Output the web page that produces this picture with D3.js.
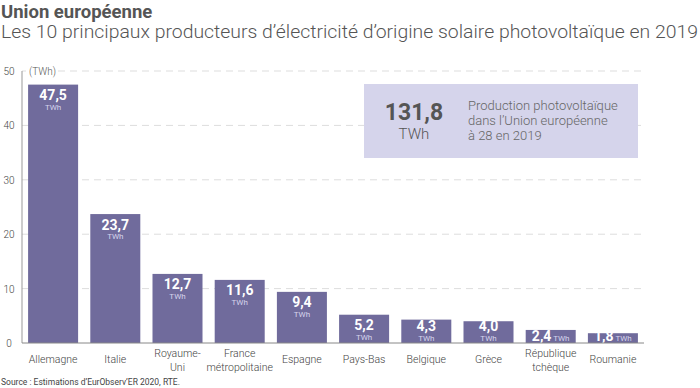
<!DOCTYPE html>
<html>
<head>
<meta charset="utf-8">
<script src="https://cdn.jsdelivr.net/npm/d3@7"></script>
<style>
  body { margin: 0; background: #fff; }
  svg { display: block; font-family: Roboto, "Noto Sans", sans-serif; }
</style>
</head>
<body>
<svg width="700" height="388"></svg>
<script>
var countries = ["Allemagne", "Italie", "Royaume-|Uni", "France|métropolitaine", "Espagne",
	"Pays-Bas", "Belgique", "Grèce", "République|tchèque", "Roumanie"];
var production = [47.5, 23.7, 12.7, 11.6, 9.4, 5.2, 4.3, 4.0, 2.4, 1.8];
var yTicks = [0, 10, 20, 30, 40, 50];
var totalEU = 131.8;

var svg = d3.select("svg");
var barColor = "#706b9c";
var fmt = function(v) { return d3.format(".1f")(v).replace(".", ","); };

var x = d3.scaleBand()
	.domain(countries)
	.range([22, 644])
	.paddingInner(0.196)
	.paddingOuter(0.098);

var y = d3.scaleLinear()
	.domain([0, 50])
	.range([343, 71]);

//titles
svg.append("text")
	.attr("x", 1).attr("y", 17.5)
	.style("font-size", "18.5px").style("font-weight", 700).style("fill", "#555")
	.text("Union européenne");
svg.append("text")
	.attr("x", 1).attr("y", 38)
	.attr("textLength", 697).attr("lengthAdjust", "spacingAndGlyphs")
	.style("font-size", "17.5px").style("font-weight", 300).style("fill", "#555")
	.text("Les 10 principaux producteurs d’électricité d’origine solaire photovoltaïque en 2019");

//grid
svg.append("g").selectAll("line")
	.data(yTicks.filter(function(d) { return d > 0; }))
	.enter().append("line")
		.attr("x1", 22).attr("x2", 645)
		.attr("y1", function(d) { return y(d); })
		.attr("y2", function(d) { return y(d); })
		.style("stroke", "#ddd").style("stroke-dasharray", "7,5");

svg.append("g").selectAll("text")
	.data(yTicks)
	.enter().append("text")
		.attr("x", 9).attr("y", function(d) { return y(d) + 4; })
		.attr("text-anchor", "middle")
		.style("font-size", "10px").style("font-weight", 300).style("fill", "#444")
		.text(function(d) { return d; });

svg.append("rect").attr("x", 26).attr("y", 63).attr("width", 32).attr("height", 14).style("fill", "#fff");
svg.append("text")
	.attr("x", 29).attr("y", 75)
	.style("font-size", "10px").style("font-weight", 300).style("fill", "#555")
	.text("(TWh)");

//bars
var bar = svg.append("g").selectAll("g")
	.data(countries.map(function(c, i) { return {name: c, value: production[i]}; }))
	.enter().append("g");

bar.append("rect")
	.attr("x", function(d) { return x(d.name); })
	.attr("y", function(d) { return y(d.value); })
	.attr("width", x.bandwidth())
	.attr("height", function(d) { return y(0) - y(d.value); })
	.style("fill", barColor);

//value labels
bar.each(function(d) {
	var g = d3.select(this);
	var cx = x(d.name) + x.bandwidth() / 2;
	if (d.value < 3) {
		var t = g.append("text")
			.attr("x", cx).attr("y", y(0) - 2)
			.attr("text-anchor", "middle");
		t.append("tspan").style("font-size", "14px").style("font-weight", 700).style("fill", "#fff").text(fmt(d.value));
		t.append("tspan").style("font-size", "8px").style("fill", "#d6d4ec").text(" TWh");
	} else {
		var ty = Math.min(y(d.value) + 15.5, y(0) - 12);
		g.append("text")
			.attr("x", cx).attr("y", ty)
			.attr("text-anchor", "middle")
			.style("font-size", "14px").style("font-weight", 700).style("fill", "#fff")
			.text(fmt(d.value));
		g.append("text")
			.attr("x", cx).attr("y", ty + 9.5)
			.attr("text-anchor", "middle")
			.style("font-size", "8px").style("fill", "#d6d4ec")
			.text("TWh");
	}
});

//axes lines
svg.append("line").attr("x1", 22).attr("x2", 22).attr("y1", 71).attr("y2", 343)
	.style("stroke", "#999");
svg.append("line").attr("x1", 22).attr("x2", 644).attr("y1", 343).attr("y2", 343)
	.style("stroke", "#888");

//category labels
svg.append("g").selectAll("text")
	.data(countries)
	.enter().append("text")
		.attr("text-anchor", "middle")
		.style("font-size", "10.5px").style("font-weight", 300).style("fill", "#444")
		.each(function(d) {
			var lines = d.split("|");
			var cx = x(d) + x.bandwidth() / 2;
			var base = lines.length > 1 ? 357 : 363;
			d3.select(this).selectAll("tspan")
				.data(lines)
				.enter().append("tspan")
					.attr("x", cx)
					.attr("y", function(l, i) { return base + i * 14; })
					.text(function(l) { return l; });
		});

//EU total box
svg.append("rect")
	.attr("x", 364).attr("y", 84).attr("width", 274).attr("height", 74)
	.style("fill", "#d5d4eb");
svg.append("text")
	.attr("x", 414).attr("y", 120).attr("text-anchor", "middle")
	.style("font-size", "23px").style("font-weight", 700).style("fill", "#555")
	.text(fmt(totalEU));
svg.append("text")
	.attr("x", 414).attr("y", 139).attr("text-anchor", "middle")
	.style("font-size", "15px").style("font-weight", 300).style("fill", "#555")
	.text("TWh");
svg.append("text")
	.style("font-size", "13px").style("font-weight", 300).style("fill", "#666")
	.selectAll("tspan")
	.data(["Production photovoltaïque", "dans l’Union européenne", "à 28 en 2019"])
	.enter().append("tspan")
		.attr("x", 468)
		.attr("y", function(d, i) { return 110 + i * 14.8; })
		.text(function(d) { return d; });

//source
svg.append("text")
	.attr("x", 1).attr("y", 385)
	.style("font-size", "8.5px").style("fill", "#444")
	.text("Source : Estimations d’EurObserv’ER 2020, RTE.");
</script>
</body>
</html>
